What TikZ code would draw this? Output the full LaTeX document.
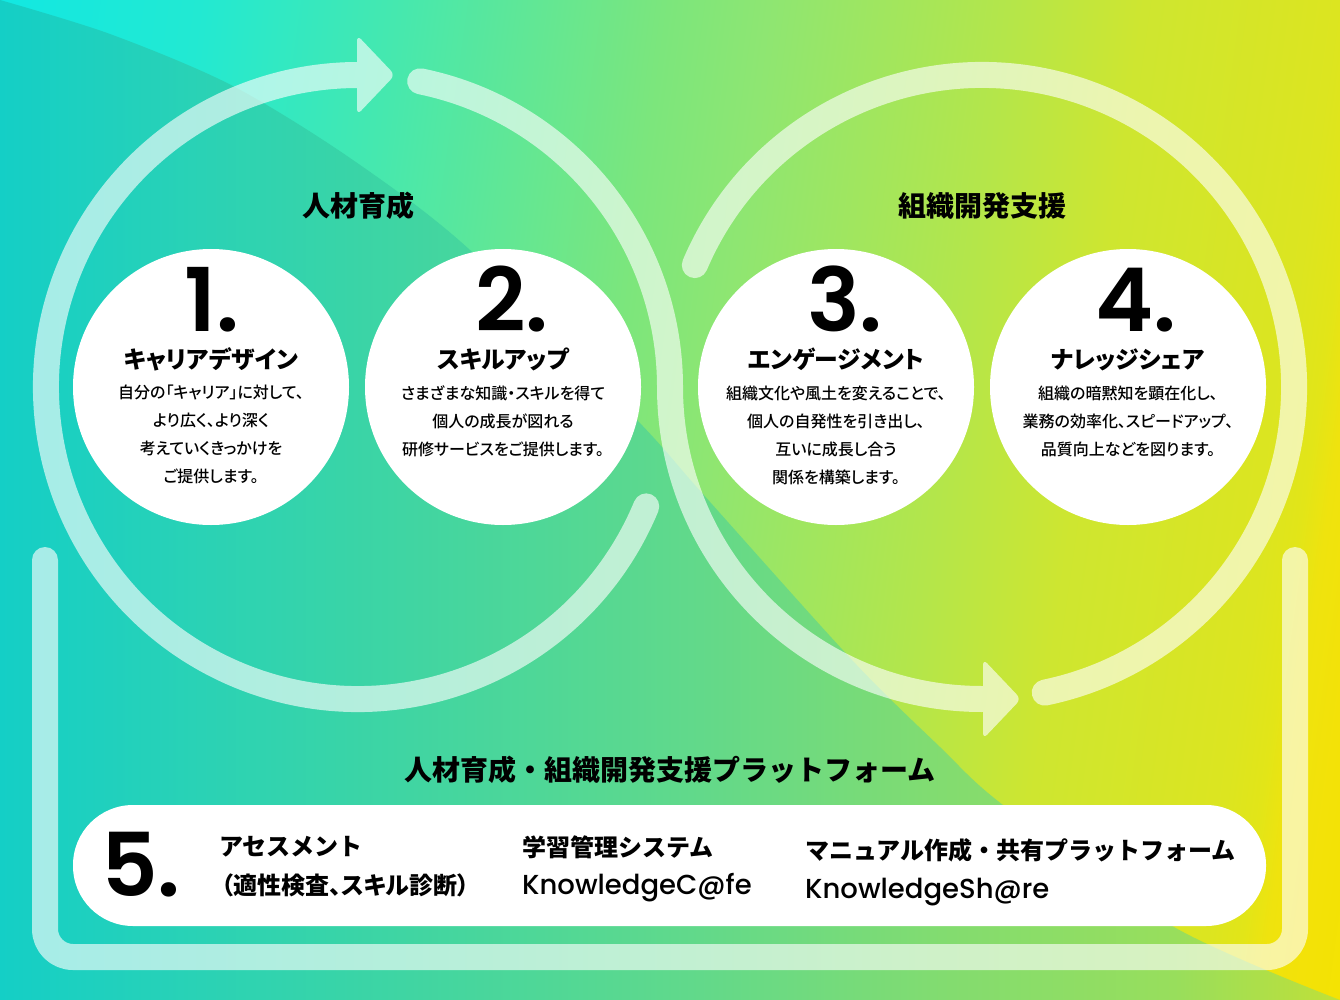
\documentclass[tikz,border=0pt]{standalone}
\usepackage{fontspec}
\usetikzlibrary{calc}
\setmainfont{Noto Sans CJK JP}[RawFeature=+palt]
\newfontfamily\jp{Noto Sans CJK JP}[RawFeature=+palt]
\newfontfamily\jpfull{Noto Sans CJK JP}
\newfontfamily\jpm{Noto Sans CJK JP Medium}[RawFeature=+palt]
\newfontfamily\num{Poppins SemiBold}
\newfontfamily\lat{Poppins Medium}
\definecolor{ua}{HTML}{12E8E2}
\definecolor{ub}{HTML}{22E9D2}
\definecolor{uc}{HTML}{46E8AE}
\definecolor{ud}{HTML}{7CE67C}
\definecolor{uda}{HTML}{8EE672}
\definecolor{ue}{HTML}{B4E64A}
\definecolor{uea}{HTML}{CEE630}
\definecolor{uf}{HTML}{DCE520}
\definecolor{ufa}{HTML}{E2E518}
\definecolor{ufb}{HTML}{EFE30E}
\definecolor{ufc}{HTML}{F3E208}
\definecolor{ug}{HTML}{F4E300}
\definecolor{la}{HTML}{14CFC6}
\definecolor{lb}{HTML}{1FD0BE}
\definecolor{lc}{HTML}{2AD2B5}
\definecolor{ld}{HTML}{38D4A8}
\definecolor{le}{HTML}{56D892}
\definecolor{lf}{HTML}{62D98A}
\definecolor{lg}{HTML}{82DC70}
\definecolor{lh}{HTML}{98DE5C}
\definecolor{li}{HTML}{C0E038}
\pgfdeclarehorizontalshading{upperbg}{100bp}{color(0bp)=(ua);color(27.1bp)=(ua);color(33.3bp)=(ub);color(39.5bp)=(uc);color(47.8bp)=(ud);color(50.9bp)=(uda);color(58.3bp)=(ue);color(62.5bp)=(uea);color(68.5bp)=(uf);color(69.6bp)=(ufa);color(70.4bp)=(ufb);color(71.6bp)=(ufc);color(73.4bp)=(ug);color(100bp)=(ug)}
\pgfdeclarehorizontalshading{lowerbg}{100bp}{color(0bp)=(la);color(25bp)=(la);color(28.7bp)=(lb);color(32.5bp)=(lc);color(37.7bp)=(ld);color(47.4bp)=(le);color(51.1bp)=(lf);color(60.1bp)=(lg);color(68.8bp)=(lh);color(75bp)=(li);color(100bp)=(li)}
\tikzset{
  x=1pt,y=1pt,
  band/.style={line width=26pt,white,line cap=round,line join=round},
  headtip/.style={fill=white,rounded corners=6pt},
  disc/.style={circle,fill=white,minimum size=276pt,inner sep=0pt},
  bignum/.style={inner sep=0pt,anchor=base,text=black,font=\num\fontsize{88}{90}\selectfont},
  disctitle/.style={inner sep=0pt,text=black,font=\jp\bfseries\fontsize{23.8}{26}\selectfont},
  discbody/.style={inner sep=0pt,text=black,align=center,font=\jpm\fontsize{16}{28}\selectfont},
  heading/.style={inner sep=0pt,text=black,font=\jp\bfseries\fontsize{28}{32}\selectfont},
  wideheading/.style={inner sep=0pt,text=black,font=\jpfull\bfseries\fontsize{28}{32}\selectfont},
  pilltext/.style={inner sep=0pt,text=black,anchor=west,font=\jpfull\bfseries\fontsize{24}{28}\selectfont},
  pillpalt/.style={inner sep=0pt,text=black,anchor=west,font=\jp\bfseries\fontsize{24}{28}\selectfont},
  pilllatin/.style={inner sep=0pt,text=black,anchor=base west,font=\lat\fontsize{27.5}{30}\selectfont},
  bgshade/.style={transform canvas={rotate around={-8:(670,-500)}}},
}
\begin{document}
\begin{tikzpicture}
\useasboundingbox (0,0) rectangle (1340,-1000);
\begin{scope}
\clip (0,0) rectangle (1340,-1000);
\shade[bgshade,shading=upperbg] (-130,300) rectangle (1470,-1300);
\end{scope}
\begin{scope}
\clip plot[smooth,tension=.5] coordinates {(0,0) (110,-34) (231,-85) (350,-158) (470,-250) (638,-421) (702,-493) (852,-660) (940,-747) (1003,-805) (1174,-927) (1340,-1000)} -- (0,-1000) -- cycle;
\shade[shading=lowerbg] (0,0) rectangle (1340,-1000);
\end{scope}

\coordinate (lc) at (358,-387);
\coordinate (rc) at (982,-387);
\coordinate (lstart) at ($(lc)+(-22.5:312)$);
\coordinate (mstart) at ($(lc)+(78.5:312)$);
\coordinate (rstart) at ($(rc)+(157:312)$);
\coordinate (bl) at (45,-560);
\coordinate (br) at (1295,-560);
\coordinate (bcl) at (45,-957);
\coordinate (bcr) at (1295,-957);

\begin{scope}[transparency group,opacity=.62]
\draw[band] (lstart) arc[start angle=-22.5,end angle=-270,radius=312];
\fill[headtip] (357,-35) -- (395,-75) -- (357,-115) -- cycle;
\draw[band] (mstart) arc[start angle=78.5,end angle=0,radius=312] arc[start angle=180,end angle=270,radius=312];
\fill[headtip] (983,-659) -- (1021,-699) -- (983,-739) -- cycle;
\draw[band] (rstart) arc[start angle=157,end angle=-78.4,radius=312];
\draw[band,rounded corners=28pt] (bl) -- (bcl) -- (bcr) -- (br);
\end{scope}

\node[heading] (h1) at (358,-206) {人材育成};
\node[heading] (h2) at (982,-206) {組織開発支援};

\node[disc] (c1) at (211,-387) {};
\node[disc] (c2) at (503,-387) {};
\node[disc] (c3) at (836,-387) {};
\node[disc] (c4) at (1128,-387) {};

\node[bignum] (n1) at (212,-331) {1.};
\node[bignum] (n2) at (512,-331) {2.};
\node[bignum] (n3) at (845,-331) {3.};
\node[bignum] (n4) at (1136,-331) {4.};

\node[disctitle] (t1) at (211,-359.5) {キャリアデザイン};
\node[disctitle] (t2) at (503,-359.5) {スキルアップ};
\node[disctitle] (t3) at (836,-359.5) {エンゲージメント};
\node[disctitle] (t4) at (1128,-359.5) {ナレッジシェア};

\node[discbody,anchor=north] (b1) at (211,-385) {自分の「キャリア」に対して、\\より広く、より深く\\考えていくきっかけを\\ご提供します。};
\node[discbody,anchor=north] (b2) at (503,-385) {さまざまな知識・スキルを得て\\個人の成長が図れる\\研修サービスをご提供します。};
\node[discbody,anchor=north] (b3) at (836,-386) {組織文化や風土を変えることで、\\個人の自発性を引き出し、\\互いに成長し合う\\関係を構築します。};
\node[discbody,anchor=north] (b4) at (1128,-386) {組織の暗黙知を顕在化し、\\業務の効率化、スピードアップ、\\品質向上などを図ります。};

\node[wideheading] (h3) at (670,-770) {人材育成・組織開発支援プラットフォーム};

\node[fill=white,rounded corners=60pt,minimum width=1193pt,minimum height=121pt,inner sep=0pt] (pill) at (669.5,-865.5) {};
\node[bignum] (n5) at (141,-896) {5.};
\node[pilltext] (p1) at (219,-847) {アセスメント};
\node[pillpalt] (p2) at (221,-885) {（適性検査、スキル診断）};
\node[pilltext] (p3) at (522,-847) {学習管理システム};
\node[pilllatin] (p4) at (522,-894) {KnowledgeC@fe};
\node[pilltext] (p5) at (805,-850) {マニュアル作成・共有プラットフォーム};
\node[pilllatin] (p6) at (805,-898) {KnowledgeSh@re};
\end{tikzpicture}
\end{document}
